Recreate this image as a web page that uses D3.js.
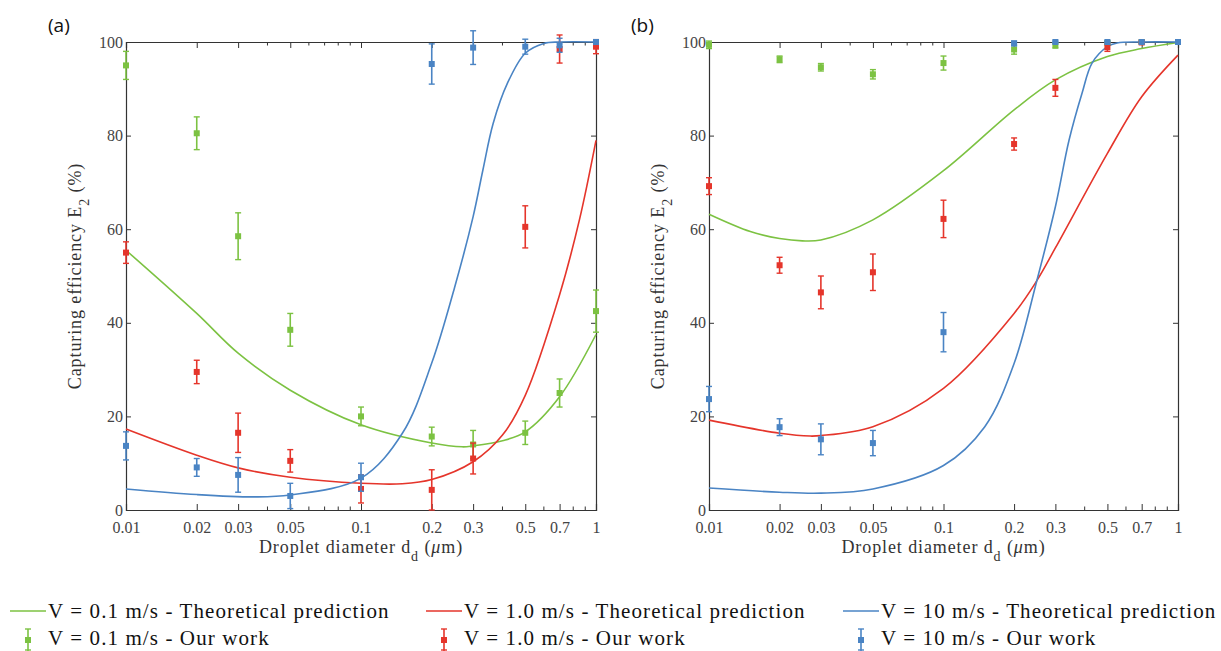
<!DOCTYPE html>
<html>
  <head>
    <meta charset="UTF-8" />
    <script src="https://d3js.org/d3.v7.min.js"></script>
  </head>

  <body style="margin:0">
    <svg width="1221" height="651"></svg>

    <script>
      // droplet diameters where measurements were taken
      const diameters = [0.01, 0.02, 0.03, 0.05, 0.1, 0.2, 0.3, 0.5, 0.7, 1];
      const xTickLabels = [0.01, 0.02, 0.03, 0.05, 0.1, 0.2, 0.3, 0.5, 0.7, 1];
      const yTickLabels = [0, 20, 40, 60, 80, 100];

      // panel (a) measured values and error
      const aGreenPts = [95, 80.5, 58.5, 38.5, 20, 15.7, 14, 16.5, 25, 42.5];
      const aGreenErr = [3, 3.5, 5, 3.5, 2, 2, 3, 2.5, 3, 4.5];
      const aRedPts = [55, 29.5, 16.5, 10.5, 4.5, 4.3, 11, 60.5, 98.5, 99];
      const aRedErr = [2.3, 2.5, 4.2, 2.4, 3, 4.3, 3.3, 4.5, 3, 1.5];
      const aBluePts = [13.7, 9.1, 7.5, 3, 7, 95.3, 98.8, 99, 99.3, 100];
      const aBlueErr = [3, 1.9, 3.7, 2.7, 3, 4.3, 3.6, 1.6, 1.5, 0.5];

      // panel (b) measured values and error
      const bGreenPts = [99.4, 96.3, 94.6, 93.1, 95.5, 98.4, 99.3, 99.8, 100, 100];
      const bGreenErr = [0.8, 0.7, 0.8, 1, 1.5, 1, 0.6, 0.3, 0.2, 0.2];
      const bRedPts = [69.2, 52.3, 46.5, 50.8, 62.2, 78.2, 90.2, 98.9, 99.9, 100];
      const bRedErr = [1.8, 1.7, 3.5, 3.9, 4, 1.3, 1.8, 0.9, 0.2, 0.2];
      const bBluePts = [23.7, 17.7, 15.1, 14.3, 38, 99.7, 100, 100, 100, 100];
      const bBlueErr = [2.7, 1.8, 3.3, 2.7, 4.2, 0.5, 0.2, 0.2, 0.2, 0.2];

      // theoretical prediction curves (diameter, value)
      const aGreenCurveD = [0.01, 0.02, 0.03, 0.05, 0.1, 0.2, 0.27, 0.3, 0.4, 0.5, 0.7, 1];
      const aGreenCurveV = [55.5, 42, 33.5, 25.6, 18.2, 14.3, 13.5, 13.7, 14.8, 16.7, 24.2, 37.5];
      const aRedCurveD = [0.01, 0.02, 0.03, 0.05, 0.1, 0.15, 0.2, 0.3, 0.4, 0.5, 0.7, 0.85, 1];
      const aRedCurveV = [17.3, 11.7, 9, 7, 5.7, 5.6, 6.5, 10.3, 16, 24.5, 46, 62, 79];
      const aBlueCurveD = [0.01, 0.02, 0.035, 0.05, 0.1, 0.15, 0.2, 0.25, 0.3, 0.33, 0.365, 0.42, 0.5, 0.6, 0.7, 1];
      const aBlueCurveV = [4.5, 3.3, 2.8, 3.2, 6.8, 16.4, 31.4, 47.5, 62.7, 72.6, 82.6, 91.2, 97.6, 99.7, 100, 100];

      const bGreenCurveD = [0.01, 0.015, 0.02, 0.025, 0.03, 0.05, 0.1, 0.2, 0.3, 0.5, 0.7, 1];
      const bGreenCurveV = [63.2, 59.5, 58, 57.5, 57.7, 62, 72.5, 85.5, 91.9, 96.9, 98.6, 99.9];
      const bRedCurveD = [0.01, 0.02, 0.027, 0.03, 0.05, 0.1, 0.2, 0.25, 0.3, 0.5, 0.7, 1];
      const bRedCurveV = [19.2, 16.4, 15.8, 15.9, 17.8, 26, 42, 49, 56, 76.2, 88.3, 97.2];
      const bBlueCurveD = [0.01, 0.02, 0.03, 0.05, 0.1, 0.15, 0.2, 0.25, 0.3, 0.343, 0.39, 0.43, 0.5, 0.55, 0.7, 1];
      const bBlueCurveV = [4.7, 3.8, 3.6, 4.5, 9.5, 17.8, 31.3, 49, 64.8, 79, 89.1, 95.5, 99, 99.8, 100, 100];

      const legendLabels = [
        "V = 0.1 m/s - Theoretical prediction",
        "V = 1.0 m/s - Theoretical prediction",
        "V = 10 m/s - Theoretical prediction",
        "V = 0.1 m/s - Our work",
        "V = 1.0 m/s - Our work",
        "V = 10 m/s - Our work",
      ];

      const green = "#7cc242";
      const red = "#e5352b";
      const blue = "#4a84c4";

      const svg = d3.select("svg");
      const SERIF = '"Liberation Serif"';

      function zip(d, v) {
        return d.map((x, i) => ({ d: x, v: v[i] }));
      }

      function drawPanel(left, right, tag, series) {
        const x = d3.scaleLog().domain([0.01, 1]).range([left, right]);
        const y = d3.scaleLinear().domain([0, 100]).range([510, 42]);
        const g = svg.append("g");

        const minor = [];
        [0.01, 0.1].forEach((base) => {
          for (let k = 2; k <= 9; k++) {
            const v = +(base * k).toFixed(3);
            if (!xTickLabels.includes(v)) minor.push(v);
          }
        });

        // bottom axis
        const bottom = g.append("g")
          .attr("transform", "translate(0,510)")
          .call(d3.axisBottom(x).tickValues(xTickLabels).tickSize(-6).tickPadding(12)
            .tickFormat((d) => String(d)));
        bottom.append("g").selectAll("line").data(minor).join("line")
          .attr("x1", (d) => x(d)).attr("x2", (d) => x(d))
          .attr("y1", 0).attr("y2", -3.5).attr("stroke", "#333");

        // top axis
        const top = g.append("g")
          .attr("transform", "translate(0,42)")
          .call(d3.axisTop(x).tickValues(xTickLabels).tickSize(-6).tickFormat(""));
        top.append("g").selectAll("line").data(minor).join("line")
          .attr("x1", (d) => x(d)).attr("x2", (d) => x(d))
          .attr("y1", 0).attr("y2", 3.5).attr("stroke", "#333");

        g.append("g")
          .attr("transform", `translate(${left},0)`)
          .call(d3.axisLeft(y).tickValues(yTickLabels).tickSize(-5).tickPadding(3));
        g.append("g")
          .attr("transform", `translate(${right},0)`)
          .call(d3.axisRight(y).tickValues(yTickLabels).tickSize(-5).tickFormat(""));

        g.selectAll(".domain").attr("stroke", "#333").attr("stroke-width", 1.2);
        g.selectAll(".tick line").attr("stroke", "#333");
        g.selectAll(".tick text")
          .style("font-family", SERIF)
          .attr("font-size", 16)
          .attr("fill", "#444");

        const line = d3.line()
          .x((p) => x(p.d))
          .y((p) => y(p.v))
          .curve(d3.curveCatmullRom.alpha(0.5));

        series.forEach((s) => {
          g.append("path")
            .datum(zip(s.curveD, s.curveV))
            .attr("d", line)
            .attr("fill", "none")
            .attr("stroke", s.color)
            .attr("stroke-width", 1.6);
        });

        series.forEach((s) => {
          const pts = diameters.map((d, i) => ({ d: d, v: s.pts[i], e: s.err[i] }));
          const pg = g.append("g").attr("stroke", s.color).attr("fill", s.color);
          pg.selectAll(".bar").data(pts).join("line")
            .attr("x1", (p) => x(p.d)).attr("x2", (p) => x(p.d))
            .attr("y1", (p) => y(p.v - p.e)).attr("y2", (p) => y(p.v + p.e))
            .attr("stroke-width", 1.6);
          pg.selectAll(".capLo").data(pts).join("line")
            .attr("x1", (p) => x(p.d) - 3).attr("x2", (p) => x(p.d) + 3)
            .attr("y1", (p) => y(p.v - p.e)).attr("y2", (p) => y(p.v - p.e))
            .attr("stroke-width", 1.4);
          pg.selectAll(".capHi").data(pts).join("line")
            .attr("x1", (p) => x(p.d) - 3).attr("x2", (p) => x(p.d) + 3)
            .attr("y1", (p) => y(p.v + p.e)).attr("y2", (p) => y(p.v + p.e))
            .attr("stroke-width", 1.4);
          pg.selectAll("rect").data(pts).join("rect")
            .attr("x", (p) => x(p.d) - 3).attr("y", (p) => y(p.v) - 3)
            .attr("width", 6).attr("height", 6)
            .attr("stroke", "none");
        });

        // axis titles
        const xt = svg.append("text")
          .style("font-family", SERIF)
          .style("letter-spacing", "0.9px")
          .attr("font-size", 18)
          .attr("x", (left + right) / 2).attr("y", 553)
          .attr("text-anchor", "middle")
          .attr("fill", "#333");
        xt.append("tspan").text("Droplet diameter d");
        xt.append("tspan").attr("baseline-shift", "sub").attr("font-size", 14).text("d");
        xt.append("tspan").text(" (");
        xt.append("tspan").attr("font-style", "italic").text("\u03bc");
        xt.append("tspan").text("m)");

        const yt = svg.append("text")
          .style("font-family", SERIF)
          .style("letter-spacing", "0.9px")
          .attr("font-size", 18)
          .attr("transform", `translate(${left - 45},276) rotate(-90)`)
          .attr("text-anchor", "middle")
          .attr("fill", "#333");
        yt.append("tspan").text("Capturing efficiency E");
        yt.append("tspan").attr("baseline-shift", "sub").attr("font-size", 14).text("2");
        yt.append("tspan").text(" (%)");

        svg.append("text")
          .attr("x", left - 78).attr("y", 32)
          .style("font-family", '"Open Sans"')
          .attr("font-size", 19)
          .attr("fill", "#111")
          .text(tag);
      }

      drawPanel(126, 596, "(a)", [
        { color: green, pts: aGreenPts, err: aGreenErr, curveD: aGreenCurveD, curveV: aGreenCurveV },
        { color: red, pts: aRedPts, err: aRedErr, curveD: aRedCurveD, curveV: aRedCurveV },
        { color: blue, pts: aBluePts, err: aBlueErr, curveD: aBlueCurveD, curveV: aBlueCurveV },
      ]);
      drawPanel(709, 1178, "(b)", [
        { color: green, pts: bGreenPts, err: bGreenErr, curveD: bGreenCurveD, curveV: bGreenCurveV },
        { color: red, pts: bRedPts, err: bRedErr, curveD: bRedCurveD, curveV: bRedCurveV },
        { color: blue, pts: bBluePts, err: bBlueErr, curveD: bBlueCurveD, curveV: bBlueCurveV },
      ]);

      // legend
      const colors = [green, red, blue];
      const colX = [10, 426, 843];
      const leg = svg.append("g");
      colors.forEach((c, i) => {
        const lx = colX[i];
        leg.append("line")
          .attr("x1", lx).attr("x2", lx + 36).attr("y1", 611).attr("y2", 611)
          .attr("stroke", c).attr("stroke-width", 1.6);
        leg.append("text")
          .style("font-family", SERIF)
          .style("letter-spacing", "1.1px")
          .attr("font-size", 21)
          .attr("x", lx + 38).attr("y", 618)
          .attr("fill", "#111")
          .text(legendLabels[i]);
        const mx = lx + 18;
        leg.append("line").attr("x1", mx).attr("x2", mx).attr("y1", 629).attr("y2", 651)
          .attr("stroke", c).attr("stroke-width", 1.6);
        leg.append("line").attr("x1", mx - 3).attr("x2", mx + 3).attr("y1", 629).attr("y2", 629)
          .attr("stroke", c).attr("stroke-width", 1.4);
        leg.append("line").attr("x1", mx - 3).attr("x2", mx + 3).attr("y1", 650).attr("y2", 650)
          .attr("stroke", c).attr("stroke-width", 1.4);
        leg.append("rect").attr("x", mx - 3).attr("y", 637).attr("width", 6).attr("height", 6)
          .attr("fill", c);
        leg.append("text")
          .style("font-family", SERIF)
          .style("letter-spacing", "1.1px")
          .attr("font-size", 21)
          .attr("x", lx + 38).attr("y", 645)
          .attr("fill", "#111")
          .text(legendLabels[i + 3]);
      });
    </script>
  </body>
</html>
